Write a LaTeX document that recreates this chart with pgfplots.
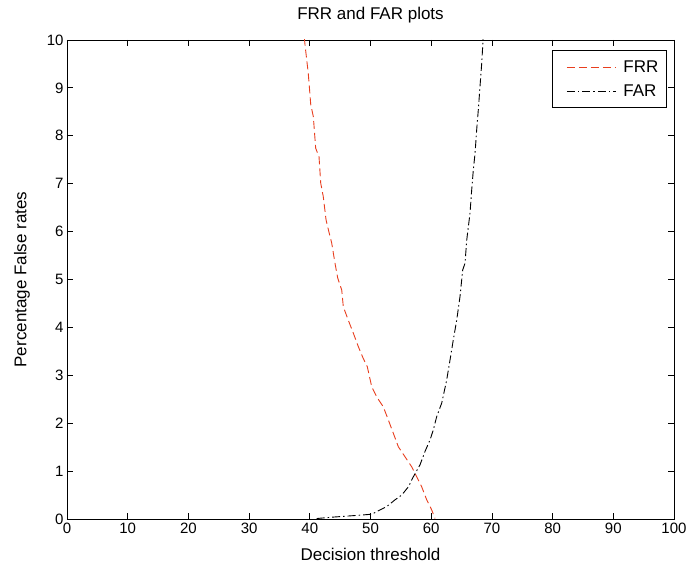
\documentclass[border=0pt]{standalone}
\usepackage{fontspec}
\setmainfont{Liberation Sans}
\usepackage{pgfplots}
\pgfplotsset{compat=1.18}
\definecolor{frr}{RGB}{232,62,30}

\pgfplotstableread{
x y
39.10 10.05
39.21 9.90
39.75 9.30
40.15 8.66
40.58 8.40
40.97 7.74
41.52 7.56
41.80 7.01
42.22 6.73
42.67 6.25
43.21 5.96
43.61 5.76
44.15 5.34
44.60 5.03
45.26 4.78
45.52 4.43
46.34 4.15
47.17 3.88
47.99 3.60
48.81 3.35
49.47 3.18
50.20 2.76
51.02 2.55
52.11 2.34
52.93 2.07
53.76 1.79
54.58 1.51
55.68 1.30
56.79 1.09
57.61 0.88
58.44 0.67
59.26 0.40
60.08 0.19
60.63 0.01
}\frrdata

\pgfplotstableread{
x y
41.14 0.01
43.87 0.04
46.08 0.06
48.27 0.08
50.20 0.10
51.57 0.19
52.67 0.26
54.04 0.40
55.14 0.50
56.23 0.67
57.05 0.88
58.15 1.13
58.98 1.41
59.80 1.65
60.35 1.86
60.91 2.14
61.73 2.42
62.55 2.90
63.10 3.32
63.64 3.74
64.20 4.15
64.74 4.64
65.19 5.20
65.57 5.34
65.85 5.82
66.39 6.38
66.67 6.87
66.94 7.29
67.22 7.63
67.50 8.14
67.76 8.54
68.04 9.03
68.32 9.51
68.48 9.86
68.55 10.05
}\fardata

\begin{document}
\begin{tikzpicture}
\begin{axis}[
  scale only axis,
  width=607pt, height=479pt,
  xmin=0, xmax=100, ymin=0, ymax=10,
  xtick={0,10,...,100}, ytick={0,1,...,10},
  tick align=inside,
  major tick length=6pt,
  axis line style={black, line width=0.8pt},
  every tick/.style={black, line width=0.8pt},
  /pgf/number format/assume math mode=true,
  tick label style={font=\fontsize{15}{17}\selectfont},
  label style={font=\fontsize{17}{19}\selectfont},
  title style={font=\fontsize{17}{19}\selectfont, at={(axis description cs:0.5,1.04)}, anchor=center},
  title={FRR and FAR plots},
  xlabel={Decision threshold},
  ylabel={Percentage False rates},
  xlabel style={at={(axis description cs:0.5,-0.075)}, anchor=center},
  ylabel style={at={(axis description cs:-0.074,0.5)}, anchor=center},
  legend style={at={(axis description cs:0.988,0.979)}, anchor=north east,
    font=\fontsize{17}{19}\selectfont, draw=black, line width=0.8pt,
    inner xsep=6pt, inner ysep=8pt, row sep=7pt},
  legend image code/.code={\path (0pt,0pt) (62pt,0pt); \draw[#1] (8pt,0pt) -- (57pt,0pt);},
  legend cell align=left,
]
\addplot[frr, line width=0.9pt, dash pattern=on 8pt off 4pt] table {\frrdata};
\addlegendentry{FRR}
\addplot[black, line width=0.9pt, dash pattern=on 8pt off 3pt on 1.5pt off 3pt] table {\fardata};
\addlegendentry{FAR}
\end{axis}
\path[use as bounding box] ([xshift=-67pt,yshift=-55pt]current axis.south west) rectangle ([xshift=18pt,yshift=40pt]current axis.north east);
\end{tikzpicture}
\end{document}
